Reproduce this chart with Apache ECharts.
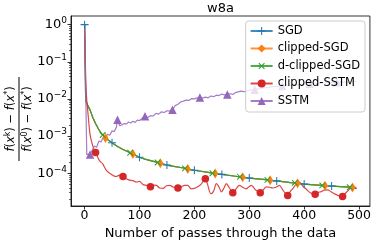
<!DOCTYPE html>
<html><head><meta charset="utf-8">
<script src="https://cdn.jsdelivr.net/npm/echarts@6/dist/echarts.min.js"></script>
<style>html,body{margin:0;padding:0;background:#fff}#c{width:374px;height:245px}</style>
</head><body><div id="c"></div>
<script>
// ---------------- data ----------------
const chartTitle = 'w8a';
const xAxisName = 'Number of passes through the data';
const seriesNames = ['SGD', 'clipped-SGD', 'd-clipped-SGD', 'clipped-SSTM', 'SSTM'];
const xTicks = [0, 100, 200, 300, 400, 500];
const yTicks = [1e-4, 1e-3, 1e-2, 1e-1, 1];
const yMinorTicks = [2e-5,3e-5,4e-5,5e-5,6e-5,7e-5,8e-5,9e-5,
  2e-4,3e-4,4e-4,5e-4,6e-4,7e-4,8e-4,9e-4,
  2e-3,3e-3,4e-3,5e-3,6e-3,7e-3,8e-3,9e-3,
  2e-2,3e-2,4e-2,5e-2,6e-2,7e-2,8e-2,9e-2,
  2e-1,3e-1,4e-1,5e-1,6e-1,7e-1,8e-1,9e-1];

// SGD-type methods share the pass grid
const sgdX = [0,2,6,10,15,20,25,30,33,38,40,50,60,70,80,83,88,90,100,110,120,133,138,140,150,160,180,183,188,200,225,233,238,250,275,283,288,300,325,333,338,350,375,383,388,400,425,433,438,450,475,483,488,495];
const sgdY = [1,8.9e-3,6.6e-3,5.0e-3,3.16e-3,2.19e-3,1.58e-3,1.20e-3,1.07e-3,8.9e-4,8.3e-4,6.6e-4,5.25e-4,4.37e-4,3.72e-4,3.55e-4,3.31e-4,3.16e-4,2.69e-4,2.40e-4,2.19e-4,1.95e-4,1.86e-4,1.82e-4,1.66e-4,1.55e-4,1.38e-4,1.35e-4,1.30e-4,1.20e-4,1.05e-4,1.00e-4,9.8e-5,9.3e-5,8.3e-5,8.0e-5,7.85e-5,7.4e-5,6.8e-5,6.6e-5,6.45e-5,6.2e-5,5.6e-5,5.5e-5,5.4e-5,5.1e-5,4.8e-5,4.7e-5,4.6e-5,4.5e-5,4.3e-5,4.2e-5,4.15e-5,3.9e-5];
const clipSgdY = [1,8.9e-3,6.6e-3,5.0e-3,3.16e-3,2.19e-3,1.58e-3,1.20e-3,1.07e-3,8.9e-4,8.3e-4,6.6e-4,5.25e-4,4.37e-4,3.72e-4,3.55e-4,3.31e-4,3.16e-4,2.69e-4,2.40e-4,2.19e-4,1.95e-4,1.86e-4,1.82e-4,1.66e-4,1.55e-4,1.38e-4,1.35e-4,1.30e-4,1.20e-4,1.05e-4,1.00e-4,9.8e-5,9.3e-5,8.3e-5,8.0e-5,7.85e-5,7.4e-5,6.8e-5,6.6e-5,6.45e-5,6.2e-5,5.6e-5,5.5e-5,5.4e-5,5.1e-5,4.8e-5,4.7e-5,4.6e-5,4.5e-5,4.3e-5,4.2e-5,4.15e-5,3.9e-5];
const dclipSgdY = [1,8.9e-3,6.6e-3,5.0e-3,3.16e-3,2.19e-3,1.58e-3,1.20e-3,1.07e-3,8.9e-4,8.3e-4,6.6e-4,5.25e-4,4.37e-4,3.72e-4,3.55e-4,3.31e-4,3.16e-4,2.69e-4,2.40e-4,2.19e-4,1.95e-4,1.86e-4,1.82e-4,1.66e-4,1.55e-4,1.38e-4,1.35e-4,1.30e-4,1.20e-4,1.05e-4,1.00e-4,9.8e-5,9.3e-5,8.3e-5,8.0e-5,7.85e-5,7.4e-5,6.8e-5,6.6e-5,6.45e-5,6.2e-5,5.6e-5,5.5e-5,5.4e-5,5.1e-5,4.8e-5,4.7e-5,4.6e-5,4.5e-5,4.3e-5,4.2e-5,4.15e-5,3.9e-5];
const sgdMarks = [0,50,100,150,200,250,300,350,400,450];
const clipSgdMarks = [38,88,138,188,238,288,338,388,438,488];
const dclipSgdMarks = [33,83,133,183,233,283,333,383,433,483];

const clipSstmX = [0,3,7,10,15,20,27,33,40,48,57,64,70,76,82,88,94,100,106,113,120,126,131,137,143,149,155,162,170,176,182,188,194,200,206,212,220,224,230,235,240,245,249,254,258,264,270,276,282,288,294,300,304,311,320,325,331,337,343,349,355,361,370,374,379,385,391,397,404,411,420,425,431,437,443,449,455,462,470,474,480,485,489,495];
const clipSstmY = [1,1.55e-2,3.02e-3,1.10e-3,5.37e-4,3.63e-4,2.19e-4,1.78e-4,1.17e-4,9.5e-5,8.1e-5,8.9e-5,8.1e-5,7.1e-5,6.5e-5,6.3e-5,5.75e-5,6.0e-5,5.0e-5,4.7e-5,4.3e-5,4.8e-5,4.7e-5,4.0e-5,3.9e-5,4.6e-5,4.7e-5,4.2e-5,4.0e-5,4.3e-5,4.7e-5,4.7e-5,3.8e-5,3.9e-5,4.3e-5,5.0e-5,7.1e-5,5.0e-5,2.8e-5,3.3e-5,5.25e-5,4.2e-5,3.16e-5,4.0e-5,5.25e-5,4.0e-5,3.0e-5,3.8e-5,4.7e-5,4.2e-5,3.8e-5,4.4e-5,4.7e-5,3.6e-5,3.0e-5,3.5e-5,4.3e-5,4.2e-5,4.0e-5,4.2e-5,4.7e-5,3.55e-5,2.5e-5,3.16e-5,3.8e-5,5.0e-5,5.75e-5,4.6e-5,3.7e-5,3.0e-5,2.7e-5,3.0e-5,3.2e-5,3.5e-5,3.55e-5,3.16e-5,2.8e-5,2.5e-5,2.35e-5,2.8e-5,3.4e-5,4.2e-5,4.6e-5,3.8e-5];
const clipSstmMarks = [20,70,120,170,220,270,320,370,420,470];

const sstmX = [0,4,10,14,18,22,26,30,34,38,42,46,50,54,58,60,64,68,72,76,80,84,88,92,96,100,105,110,115,120,125,130,135,140,145,150,155,160,165,170,175,180,185,190,195,200,205,210,215,220,225,230,235,240,245,250,255,260,265,270,275,280,285,290,295,300,305,310,315,320,325,330,335,340,350,360,370,380,390,400,410,420,430,440,450,460,470,480,495];
const sstmY = [1,3.2e-4,3.2e-4,4.2e-4,5.4e-4,5.0e-4,7.4e-4,6.9e-4,9.3e-4,8.9e-4,1.12e-3,1.05e-3,1.38e-3,1.32e-3,1.74e-3,2.75e-3,1.9e-3,2.0e-3,2.19e-3,2.09e-3,2.4e-3,2.24e-3,2.5e-3,2.34e-3,2.7e-3,2.63e-3,3.0e-3,3.4e-3,3.16e-3,3.55e-3,3.47e-3,4.1e-3,3.9e-3,4.5e-3,4.3e-3,4.8e-3,4.7e-3,5.1e-3,6.6e-3,7.2e-3,8.3e-3,8.7e-3,9.3e-3,9.1e-3,1.02e-2,1.0e-2,1.07e-2,1.1e-2,1.05e-2,1.12e-2,1.07e-2,1.2e-2,1.15e-2,1.26e-2,1.23e-2,1.35e-2,1.29e-2,1.32e-2,1.38e-2,1.32e-2,1.48e-2,1.55e-2,1.62e-2,1.58e-2,1.6e-2,1.72e-2,1.78e-2,1.76e-2,1.86e-2,1.9e-2,1.98e-2,2.04e-2,2.0e-2,2.14e-2,2.19e-2,2.24e-2,2.29e-2,2.4e-2,2.38e-2,2.5e-2,2.57e-2,2.63e-2,2.6e-2,2.75e-2,2.75e-2,2.82e-2,2.88e-2,2.85e-2,2.95e-2];
const sstmMarks = [10,60,110,160,210,260,310,360,410,460];

// ---------------- chart ----------------
const FONT = 'DejaVu Sans';
const colors = ['#1f77b4', '#ff7f0e', '#2ca02c', '#d62728', '#9467bd'];
const plusPath = 'path://M4.35,0h1.3v4.35h4.35v1.3h-4.35v4.35h-1.3v-4.35h-4.35v-1.3h4.35z';

function buildData(xs, ys, marks) {
  return xs.map((x, i) => marks.indexOf(x) >= 0 ? { value: [x, ys[i]] } : { value: [x, ys[i]], symbol: 'none' });
}
function lineSeries(idx, xs, ys, marks, symbol, size, rotate, smooth) {
  return {
    name: seriesNames[idx], type: 'line', yAxisIndex: 0,
    data: buildData(xs, ys, marks),
    symbol: symbol, symbolSize: size, symbolRotate: rotate || 0,
    showSymbol: true, smooth: smooth || false,
    lineStyle: { width: 1.2, color: colors[idx], opacity: 0.85 },
    itemStyle: { color: colors[idx], opacity: 1 },
    emphasis: { disabled: true }, animation: false
  };
}
function supText(v) {
  const e = Math.round(Math.log10(v));
  return '{b|10}{s|' + (e < 0 ? '\u2212' + (-e) : String(e)) + '}';
}
const yMin = 1.311e-5, yMax = 1.708;

const chart = echarts.init(document.getElementById('c'), null, { renderer: 'canvas' });
chart.setOption({
  animation: false,
  textStyle: { fontFamily: FONT },
  title: { text: chartTitle, left: 207, top: 2, padding: 0,
    textStyle: { fontFamily: FONT, fontSize: 13, fontWeight: 'normal', color: '#000' } },
  grid: { left: 71, right: 4, top: 16, bottom: 35, show: true, borderColor: '#000', borderWidth: 0.8, backgroundColor: 'transparent' },
  legend: {
    orient: 'vertical', right: 9, top: 21,
    backgroundColor: 'rgba(255,255,255,0.8)', borderColor: '#cccccc', borderWidth: 1, borderRadius: 3,
    padding: [4, 5, 5, 4], itemWidth: 22, itemHeight: 10, itemGap: 5.5,
    textStyle: { fontFamily: FONT, fontSize: 11.5, color: '#000' },
    data: seriesNames
  },
  xAxis: {
    type: 'value', min: -24.75, max: 519.75,
    name: xAxisName, nameLocation: 'middle', nameGap: 21,
    nameTextStyle: { fontFamily: FONT, fontSize: 13, color: '#000' },
    axisLine: { show: true, onZero: false, lineStyle: { color: '#000', width: 0.8 } },
    axisTick: { show: true, customValues: xTicks, length: 3.5, lineStyle: { color: '#000', width: 0.8 } },
    axisLabel: { customValues: xTicks, fontSize: 12.5, color: '#000', margin: 3, fontFamily: FONT },
    splitLine: { show: false }
  },
  yAxis: [{
    type: 'log', logBase: 10, min: yMin, max: yMax,
    axisLine: { show: true, onZero: false, lineStyle: { color: '#000', width: 0.8 } },
    axisTick: { show: true, customValues: yTicks, length: 3.5, lineStyle: { color: '#000', width: 0.8 } },
    axisLabel: { customValues: yTicks, margin: 4, formatter: supText,
      rich: { b: { fontSize: 13, fontFamily: FONT, color: '#000', lineHeight: 17 },
              s: { fontSize: 9, fontFamily: FONT, color: '#000', lineHeight: 9, verticalAlign: 'top' } } },
    splitLine: { show: false }
  }, {
    type: 'log', logBase: 10, min: yMin, max: yMax, position: 'left',
    axisLine: { show: false, onZero: false },
    axisTick: { show: true, customValues: yMinorTicks, length: 2, lineStyle: { color: '#000', width: 0.6 } },
    axisLabel: { show: false }, splitLine: { show: false }
  }],
  graphic: [{
    type: 'group', x: 19, y: 119, rotation: Math.PI / 2,
    children: [
      { type: 'text', x: 0, y: -8, style: {
          text: '{i|f}({i|x}{s|k}) \u2212 {i|f}({i|x}{s|*})', align: 'center', verticalAlign: 'middle',
          fontFamily: FONT, fontSize: 11.5, fill: '#000',
          rich: { i: { fontStyle: 'italic', fontSize: 11.5, fontFamily: FONT, lineHeight: 14 },
                  s: { fontSize: 8, fontFamily: FONT, lineHeight: 8, verticalAlign: 'top' } } } },
      { type: 'line', shape: { x1: -42, y1: 0, x2: 42, y2: 0 }, style: { stroke: '#000', lineWidth: 1 } },
      { type: 'text', x: 0, y: 9, style: {
          text: '{i|f}({i|x}{s|0}) \u2212 {i|f}({i|x}{s|*})', align: 'center', verticalAlign: 'middle',
          fontFamily: FONT, fontSize: 11.5, fill: '#000',
          rich: { i: { fontStyle: 'italic', fontSize: 11.5, fontFamily: FONT, lineHeight: 14 },
                  s: { fontSize: 8, fontFamily: FONT, lineHeight: 8, verticalAlign: 'top' } } } }
    ]
  }],
  series: [
    lineSeries(0, sgdX, sgdY, sgdMarks, plusPath, 8),
    lineSeries(1, sgdX, clipSgdY, clipSgdMarks, 'diamond', [6, 10]),
    lineSeries(2, sgdX, dclipSgdY, dclipSgdMarks, plusPath, 8, 45),
    lineSeries(3, clipSstmX, clipSstmY, clipSstmMarks, 'circle', 7.5, 0, 0.3),
    lineSeries(4, sstmX, sstmY, sstmMarks, 'triangle', 8.5)
  ]
});
</script></body></html>
